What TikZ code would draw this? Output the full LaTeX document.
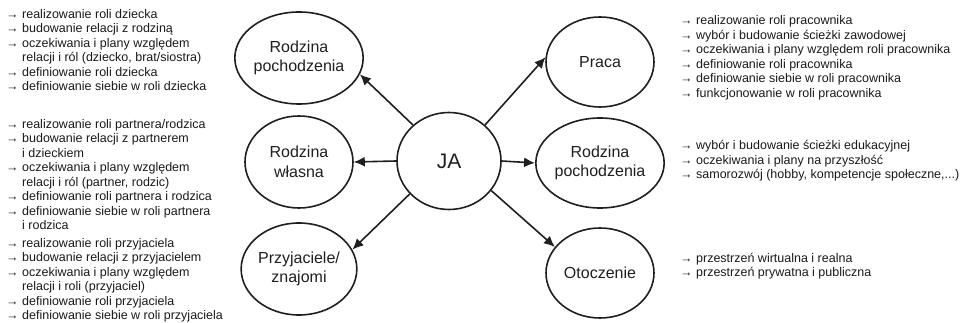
\documentclass[tikz,border=0pt]{standalone}
\usepackage{fontspec}
\setmainfont{Liberation Sans}
\usetikzlibrary{shapes.geometric,arrows.meta}
\newcommand{\itemarr}{→\ }
\newcommand{\contln}{\hphantom{→\ }}
\begin{document}
\begin{tikzpicture}[x=1pt,y=-1pt,
  bub/.style={ellipse, draw=black!88, line width=1.6pt, minimum width=108pt, minimum height=92pt, inner sep=0pt, align=center, font=\fontsize{16}{19.5}\selectfont, text=black!88},
  conn/.style={draw=black!88, line width=1.6pt, -{Latex[length=11pt,width=10pt]}},
  lst/.style={anchor=base west, align=left, inner sep=0pt, font=\fontsize{12.5}{14.5}\selectfont, text=black!90}]
\useasboundingbox (0,0) rectangle (969,323);

\node[bub] (lt) at (299,58) {Rodzina\\pochodzenia};
\node[bub] (lm) at (299,162) {Rodzina\\własna};
\node[bub] (lb) at (299,269) {Przyjaciele/\\znajomi};
\node[bub, minimum width=104pt, minimum height=97pt, font=\fontsize{21}{24}\selectfont] (ja) at (449,161) {JA};
\node[bub, minimum height=90pt] (rt) at (600,62) {Praca};
\node[bub, minimum height=90pt] (rm) at (600,163) {Rodzina\\pochodzenia};
\node[bub, minimum height=90pt] (rb) at (600,273) {Otoczenie};

\draw[conn] (ja.135) -- (lt.-15);
\draw[conn] (ja.180) -- (lm.0);
\draw[conn] (ja.-140) -- (lb.20);
\draw[conn] (ja.45) -- (rt.175);
\draw[conn] (ja.0) -- (rm.180);
\draw[conn] (ja.-35) -- (rb.150);

% anchor base west of a multi-line node = baseline of its last line
\node[lst] (t1) at (6,91) {\itemarr realizowanie roli dziecka\\
\itemarr budowanie relacji z rodziną\\
\itemarr oczekiwania i plany względem\\
\contln relacji i ról (dziecko, brat/siostra)\\
\itemarr definiowanie roli dziecka\\
\itemarr definiowanie siebie w roli dziecka};

\node[lst] (t2) at (6,229.5) {\itemarr realizowanie roli partnera/rodzica\\
\itemarr budowanie relacji z partnerem\\
\contln i dzieckiem\\
\itemarr oczekiwania i plany względem\\
\contln relacji i ról (partner, rodzic)\\
\itemarr definiowanie roli partnera i rodzica\\
\itemarr definiowanie siebie w roli partnera\\
\contln i rodzica};

\node[lst] (t3) at (6,319.5) {\itemarr realizowanie roli przyjaciela\\
\itemarr budowanie relacji z przyjacielem\\
\itemarr oczekiwania i plany względem\\
\contln relacji i roli (przyjaciel)\\
\itemarr definiowanie roli przyjaciela\\
\itemarr definiowanie siebie w roli przyjaciela};

\node[lst] (t4) at (680,97.5) {\itemarr realizowanie roli pracownika\\
\itemarr wybór i budowanie ścieżki zawodowej\\
\itemarr oczekiwania i plany względem roli pracownika\\
\itemarr definiowanie roli pracownika\\
\itemarr definiowanie siebie w roli pracownika\\
\itemarr funkcjonowanie w roli pracownika};

\node[lst] (t5) at (680,179) {\itemarr wybór i budowanie ścieżki edukacyjnej\\
\itemarr oczekiwania i plany na przyszłość\\
\itemarr samorozwój (hobby, kompetencje społeczne,...)};

\node[lst] (t6) at (680,276.5) {\itemarr przestrzeń wirtualna i realna\\
\itemarr przestrzeń prywatna i publiczna};
\end{tikzpicture}
\end{document}
